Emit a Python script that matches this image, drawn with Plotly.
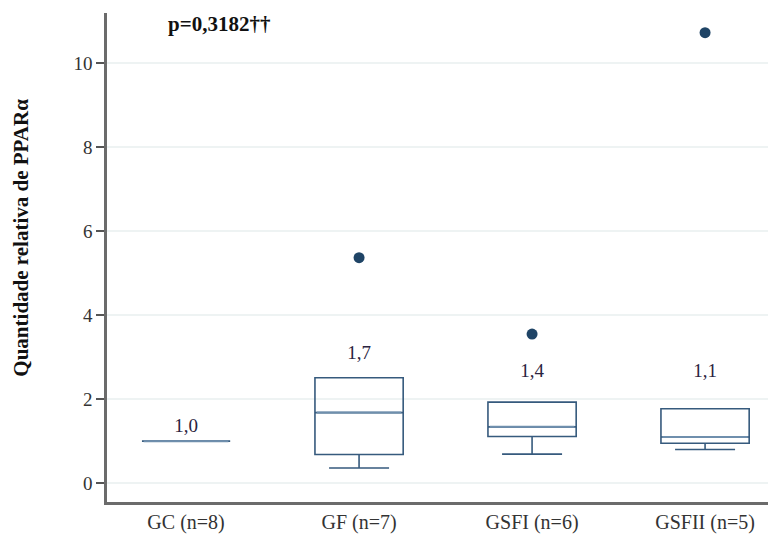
import plotly.graph_objects as go

categories = ["GC (n=8)", "GF (n=7)", "GSFI (n=6)", "GSFII (n=5)"]
q1 = [1.0, 0.68, 1.11, 0.95]
median = [1.0, 1.68, 1.34, 1.10]
q3 = [1.0, 2.51, 1.93, 1.77]
lower_whisker = [1.0, 0.36, 0.69, 0.80]
upper_whisker = [1.0, 2.51, 1.93, 1.77]
outlier_cats = ["GF (n=7)", "GSFI (n=6)", "GSFII (n=5)"]
outlier_vals = [5.37, 3.55, 10.73]
median_labels = ["1,0", "1,7", "1,4", "1,1"]
label_y = [1.33, 3.07, 2.64, 2.64]
y_ticks = [0, 2, 4, 6, 8, 10]
p_text = "p=0,3182††"
y_title = "Quantidade relativa de PPARα"

FONT = "Liberation Serif, Times New Roman, serif"
BOX_COLOR = "#365a7d"
MEDIAN_COLOR = "#6f8fad"

fig = go.Figure()
for i, c in enumerate(categories):
    fig.add_trace(go.Box(
        x=[c], q1=[q1[i]], median=[median[i]], q3=[q3[i]],
        lowerfence=[lower_whisker[i]], upperfence=[upper_whisker[i]],
        width=0.51, whiskerwidth=0.68,
        line=dict(color=BOX_COLOR, width=1.6),
        fillcolor="rgba(0,0,0,0)", boxpoints=False,
        showlegend=False, hoverinfo="skip",
    ))
    # lighter median line overlay
    fig.add_trace(go.Box(
        x=[c], q1=[median[i]], median=[median[i]], q3=[median[i]],
        lowerfence=[median[i]], upperfence=[median[i]],
        width=0.49, whiskerwidth=0,
        line=dict(color=MEDIAN_COLOR, width=2),
        fillcolor="rgba(0,0,0,0)", boxpoints=False,
        showlegend=False, hoverinfo="skip",
    ))

fig.add_trace(go.Scatter(
    x=outlier_cats, y=outlier_vals, mode="markers",
    marker=dict(color="#1f4466", size=11),
    showlegend=False, hoverinfo="skip",
))

fig.add_trace(go.Scatter(
    x=categories, y=label_y, mode="text", text=median_labels,
    textfont=dict(family=FONT, size=19, color="#2a2340"),
    showlegend=False, hoverinfo="skip",
))

fig.add_annotation(
    x=0.088, y=1.006, xref="paper", yref="paper", xanchor="left", yanchor="top",
    text="<b>" + p_text + "</b>", showarrow=False,
    font=dict(family=FONT, size=21, color="#111111"),
)

# y-axis title, placed slightly above the plot centre as in the reference
fig.add_annotation(
    x=-0.129, y=0.54, xref="paper", yref="paper", xanchor="center", yanchor="middle",
    text="<b>" + y_title + "</b>", showarrow=False, textangle=-90,
    font=dict(family=FONT, size=21, color="#111111"),
)

# page body has an 8px margin, so the figure is sized to fit the window
fig.update_layout(
    width=768, height=526,
    margin=dict(l=99, r=0, t=5, b=32),
    paper_bgcolor="white", plot_bgcolor="white",
    font=dict(family=FONT, size=19, color="#333333"),
)
fig.update_xaxes(
    type="category", categoryorder="array", categoryarray=categories,
    range=[-0.457, 3.41], showgrid=False, zeroline=False,
    showline=True, linecolor="#6b6b6b", linewidth=2.5,
    ticks="", tickfont=dict(family=FONT, size=20, color="#333333"),
    automargin=False,
)
fig.update_yaxes(
    range=[-0.45, 11.2], tickvals=y_ticks, ticktext=[str(v) for v in y_ticks],
    showgrid=True, gridcolor="#eef3f3", gridwidth=1.5, zeroline=False,
    showline=True, linecolor="#6b6b6b", linewidth=2.5,
    ticks="outside", ticklen=8, tickcolor="#555555", tickwidth=1.5,
    tickfont=dict(family=FONT, size=19, color="#333333"),
    automargin=False,
)

fig.write_html("out.html")
